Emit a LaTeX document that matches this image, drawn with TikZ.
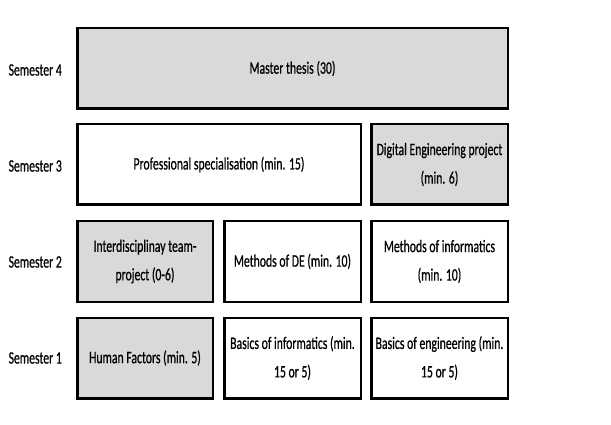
\documentclass[tikz,border=0pt]{standalone}
\usepackage{fontspec}
\setmainfont[FakeStretch=0.67,FakeBold=0.6]{Carlito}
\tikzset{
  module/.style={draw=black, line width=2.5pt, fill=white, minimum height=80.5pt,
    inner sep=0pt, align=center, font=\fontsize{17.5}{28.5}\selectfont},
  core/.style={module, fill=corefill},
  semlabel/.style={anchor=east, inner sep=0pt, font=\fontsize{17.5}{18}\selectfont}
}
\definecolor{corefill}{RGB}{217,217,217}
\begin{document}
\begin{tikzpicture}[x=1pt,y=-1pt]
\useasboundingbox (0,0) rectangle (611,425);
% semester labels
\node [semlabel] (sem4) at (62,70) {Semester 4};
\node [semlabel] (sem3) at (62,166) {Semester 3};
\node [semlabel] (sem2) at (62,262) {Semester 2};
\node [semlabel] (sem1) at (62,358) {Semester 1};
% semester 4
\node [core, minimum width=430.5pt] (thesis) at (292.5,68.5) {Master thesis (30)};
% semester 3
\node [module, minimum width=283.5pt] (special) at (219,164.5) {Professional specialisation (min. 15)};
\node [core, minimum width=136.5pt] (deproj) at (439.5,164.5) {Digital Engineering project\\(min. 6)};
% semester 2
\node [core, minimum width=135.5pt] (team) at (145,261.5) {Interdisciplinay team-\\project (0-6)};
\node [module, minimum width=136.5pt] (methde) at (292.5,261.5) {Methods of DE (min. 10)};
\node [module, minimum width=136.5pt] (methinf) at (439.5,261.5) {Methods of informatics\\(min. 10)};
% semester 1
\node [core, minimum width=135.5pt] (human) at (145,358) {Human Factors (min. 5)};
\node [module, minimum width=136.5pt] (basinf) at (292.5,358) {Basics of informatics (min.\\15 or 5)};
\node [module, minimum width=136.5pt] (baseng) at (439.5,358) {Basics of engineering (min.\\15 or 5)};
\end{tikzpicture}
\end{document}
